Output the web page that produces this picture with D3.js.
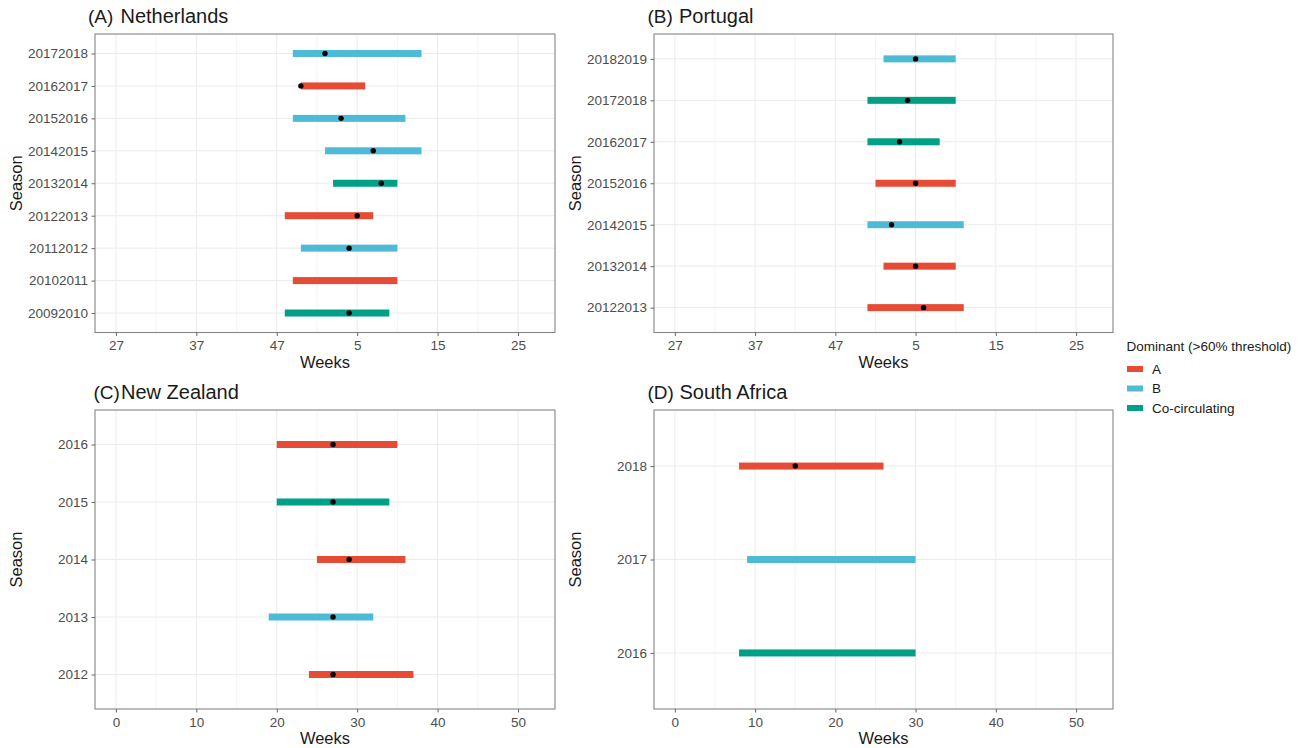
<!DOCTYPE html>
<html>
<head>
<meta charset="utf-8">
<script src="https://cdn.jsdelivr.net/npm/d3@7"></script>
<style>
  html, body { margin: 0; padding: 0; background: #fff; }
  svg { display: block; font-family: "Liberation Sans", Arial, Helvetica, sans-serif; }
</style>
</head>
<body>
<svg id="chart" width="1306" height="748"></svg>
<script>
// ---------- DATA ----------
// x values are week indices from the start of the plotting window
const typeColors = { "A": "#E64B35", "B": "#4DBBD5", "Co-circulating": "#00A087" };
const legendTypes = ["A", "B", "Co-circulating"];
const legendTitle = "Dominant (>60% threshold)";

const xTickValues = [0, 10, 20, 30, 40, 50];
const weekTickLabelsNH = ["27", "37", "47", "5", "15", "25"];
const weekTickLabelsSH = ["0", "10", "20", "30", "40", "50"];

// Netherlands
const nlSeasons = ["20092010", "20102011", "20112012", "20122013", "20132014", "20142015", "20152016", "20162017", "20172018"];
const nlStart   = [21, 22, 23, 21, 27, 26, 22, 23, 22];
const nlEnd     = [34, 35, 35, 32, 35, 38, 36, 31, 38];
const nlPeak    = [29, null, 29, 30, 33, 32, 28, 23, 26];
const nlType    = ["Co-circulating", "A", "B", "A", "Co-circulating", "B", "B", "A", "B"];

// Portugal
const ptSeasons = ["20122013", "20132014", "20142015", "20152016", "20162017", "20172018", "20182019"];
const ptStart   = [24, 26, 24, 25, 24, 24, 26];
const ptEnd     = [36, 35, 36, 35, 33, 35, 35];
const ptPeak    = [31, 30, 27, 30, 28, 29, 30];
const ptType    = ["A", "A", "B", "A", "Co-circulating", "Co-circulating", "B"];

// New Zealand
const nzSeasons = ["2012", "2013", "2014", "2015", "2016"];
const nzStart   = [24, 19, 25, 20, 20];
const nzEnd     = [37, 32, 36, 34, 35];
const nzPeak    = [27, 27, 29, 27, 27];
const nzType    = ["A", "B", "A", "Co-circulating", "A"];

// South Africa
const zaSeasons = ["2016", "2017", "2018"];
const zaStart   = [8, 9, 8];
const zaEnd     = [30, 30, 26];
const zaPeak    = [null, null, 15];
const zaType    = ["Co-circulating", "B", "A"];

const panelTags   = ["(A)", "(B)", "(C)", "(D)"];
const panelNames  = ["Netherlands", "Portugal", "New Zealand", "South Africa"];
const xAxisTitle = "Weeks";
const yAxisTitle = "Season";

// ---------- LAYOUT ----------
const panels = [
  { tag: panelTags[0], name: panelNames[0], seasons: nlSeasons, start: nlStart, end: nlEnd, peak: nlPeak, type: nlType, ticks: weekTickLabelsNH,
    left: 95, right: 555, top: 34, bottom: 332.5, tagX: 88, nameX: 120.5, titleY: 23 },
  { tag: panelTags[1], name: panelNames[1], seasons: ptSeasons, start: ptStart, end: ptEnd, peak: ptPeak, type: ptType, ticks: weekTickLabelsNH,
    left: 654, right: 1113, top: 34, bottom: 332.5, tagX: 647.5, nameX: 679, titleY: 23 },
  { tag: panelTags[2], name: panelNames[2], seasons: nzSeasons, start: nzStart, end: nzEnd, peak: nzPeak, type: nzType, ticks: weekTickLabelsSH,
    left: 95, right: 555, top: 410, bottom: 709, tagX: 93.5, nameX: 121, titleY: 399 },
  { tag: panelTags[3], name: panelNames[3], seasons: zaSeasons, start: zaStart, end: zaEnd, peak: zaPeak, type: zaType, ticks: weekTickLabelsSH,
    left: 654, right: 1113, top: 410, bottom: 709, tagX: 647.5, nameX: 679.5, titleY: 399 }
];

const svg = d3.select("#chart");
const textCol = "#1a1a1a";
const tickCol = "#4d4d4d";

panels.forEach(p => {
  const g = svg.append("g");
  const x = d3.scaleLinear().domain([-2.6, 54.6]).range([p.left, p.right]);
  const y = d3.scalePoint().domain(p.seasons).range([p.bottom, p.top]).padding(0.6);

  // grid: minor verticals
  const minor = d3.range(5, 50, 10);
  g.selectAll(".minor").data(minor).enter().append("line")
    .attr("x1", d => x(d)).attr("x2", d => x(d))
    .attr("y1", p.top).attr("y2", p.bottom)
    .attr("stroke", "#f1f1f1").attr("stroke-width", 0.8);
  // major verticals
  g.selectAll(".major").data(xTickValues).enter().append("line")
    .attr("x1", d => x(d)).attr("x2", d => x(d))
    .attr("y1", p.top).attr("y2", p.bottom)
    .attr("stroke", "#ebebeb").attr("stroke-width", 1);
  // horizontals
  g.selectAll(".hgrid").data(p.seasons).enter().append("line")
    .attr("x1", p.left).attr("x2", p.right)
    .attr("y1", d => y(d)).attr("y2", d => y(d))
    .attr("stroke", "#ebebeb").attr("stroke-width", 1);

  // bars
  const rows = p.seasons.map((s, i) => ({ s, start: p.start[i], end: p.end[i], peak: p.peak[i], type: p.type[i] }));
  const barH = 7;
  g.selectAll(".bar").data(rows).enter().append("rect")
    .attr("x", d => x(d.start))
    .attr("width", d => x(d.end) - x(d.start))
    .attr("y", d => y(d.s) - barH / 2)
    .attr("height", barH)
    .attr("fill", d => typeColors[d.type]);

  // peak dots
  g.selectAll(".dot").data(rows.filter(d => d.peak !== null)).enter().append("circle")
    .attr("cx", d => x(d.peak))
    .attr("cy", d => y(d.s))
    .attr("r", 2.7)
    .attr("fill", "#000");

  // panel border
  g.append("rect")
    .attr("x", p.left).attr("y", p.top)
    .attr("width", p.right - p.left).attr("height", p.bottom - p.top)
    .attr("fill", "none").attr("stroke", "#858585").attr("stroke-width", 1.1);

  // x axis
  const xAxis = d3.axisBottom(x).tickValues(xTickValues).tickFormat((d, i) => p.ticks[i]).tickSizeInner(3.5).tickSizeOuter(0).tickPadding(4.5);
  const xg = g.append("g").attr("transform", `translate(0,${p.bottom})`).call(xAxis);
  xg.select(".domain").remove();
  xg.selectAll(".tick line").attr("stroke", "#666");
  xg.selectAll(".tick text").attr("fill", tickCol).style("font-size", "13.5px").style("font-family", "'Liberation Sans', Arial, sans-serif");

  // y axis
  const yAxis = d3.axisLeft(y).tickSizeInner(3.5).tickSizeOuter(0).tickPadding(3.5);
  const yg = g.append("g").attr("transform", `translate(${p.left},0)`).call(yAxis);
  yg.select(".domain").remove();
  yg.selectAll(".tick line").attr("stroke", "#666");
  yg.selectAll(".tick text").attr("fill", tickCol).style("font-size", "13.5px").style("font-family", "'Liberation Sans', Arial, sans-serif");

  // axis titles
  g.append("text")
    .attr("x", (p.left + p.right) / 2).attr("y", p.bottom + 35)
    .attr("text-anchor", "middle").attr("fill", textCol)
    .style("font-size", "16.5px").text(xAxisTitle);
  g.append("text")
    .attr("transform", `translate(${p.left - 73},${(p.top + p.bottom) / 2}) rotate(-90)`)
    .attr("text-anchor", "middle").attr("fill", textCol)
    .style("font-size", "16.5px").text(yAxisTitle);

  // title
  g.append("text").attr("x", p.tagX).attr("y", p.titleY).attr("fill", textCol)
    .style("font-size", "19px").text(p.tag);
  g.append("text").attr("x", p.nameX).attr("y", p.titleY).attr("fill", textCol)
    .style("font-size", "20px").text(p.name);
});

// legend
const lg = svg.append("g");
lg.append("text").attr("x", 1126.5).attr("y", 350.5).attr("fill", textCol)
  .style("font-size", "13.5px").text(legendTitle);
const legendY = d3.scalePoint().domain(legendTypes).range([369, 408]);
lg.selectAll(".key").data(legendTypes).enter().append("rect")
  .attr("x", 1127).attr("y", d => legendY(d) - 3)
  .attr("width", 16).attr("height", 6)
  .attr("fill", d => typeColors[d]);
lg.selectAll(".klab").data(legendTypes).enter().append("text")
  .attr("x", 1152).attr("y", d => legendY(d) + 4.8)
  .attr("fill", textCol).style("font-size", "13.5px").text(d => d);
</script>
</body>
</html>
